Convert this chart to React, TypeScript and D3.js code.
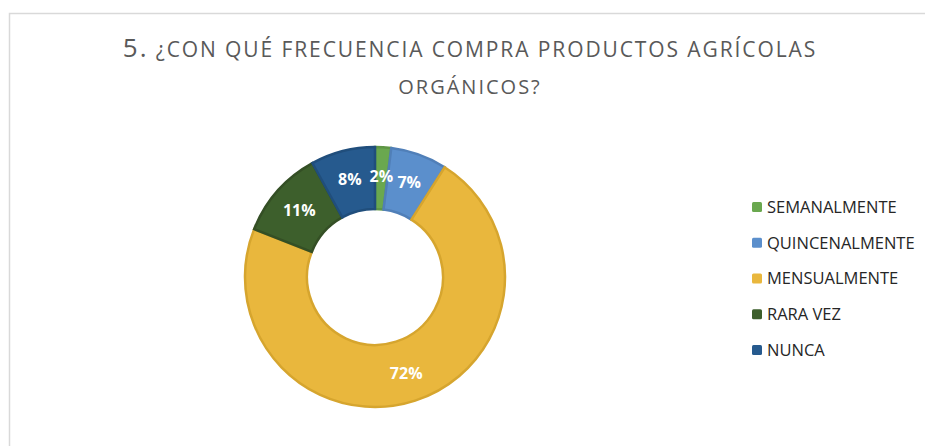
import React from "react";
import * as d3 from "d3";

const categories = ["SEMANALMENTE", "QUINCENALMENTE", "MENSUALMENTE", "RARA VEZ", "NUNCA"];
const values = [2, 7, 72, 11, 8];
const colors = ["#6aa84f", "#5b8fcc", "#e9b73d", "#3d5f2c", "#265a8e"];
const strokes = ["#5e9645", "#507fb8", "#d6a52e", "#344f25", "#204e7c"];
const titleLine1 = "¿CON QUÉ FRECUENCIA COMPRA PRODUCTOS AGRÍCOLAS";
const titleLine2 = "ORGÁNICOS?";

const W = 925, H = 446;
const cx = 375, cy = 277, outerR = 131, innerR = 67;
const font = "'Open Sans', 'DejaVu Sans', sans-serif";

export default function App() {
  const pie = d3.pie<number>().sort(null).value(d => d);
  const arcs = pie(values);
  const arc = d3.arc<d3.PieArcDatum<number>>().innerRadius(innerR + 1).outerRadius(outerR - 1);
  const labelArc = d3.arc<d3.PieArcDatum<number>>().innerRadius(101).outerRadius(101);
  const legendY = d3.scalePoint<string>().domain(categories).range([207, 350]);

  return (
    <svg width={W} height={H} style={{ position: "absolute", left: 0, top: 0 }}>
      <rect x={0} y={0} width={W} height={H} fill="#fff" />
      <path d={`M9.5,${H} V13.5 H${W}`} fill="none" stroke="#d9d9d9" strokeWidth={1.5} />
      <text x={470} y={57} textAnchor="middle" fill="#595959" fontFamily={font} fontSize={21} letterSpacing={1.9}>
        <tspan fontSize={26}>5.</tspan> {titleLine1}
      </text>
      <text x={470} y={94} textAnchor="middle" fill="#595959" fontFamily={font} fontSize={20} letterSpacing={2}>
        {titleLine2}
      </text>
      <g transform={`translate(${cx},${cy})`}>
        {arcs.map((a, i) => (
          <path key={i} d={arc(a) ?? ""} fill={colors[i]} stroke={strokes[i]} strokeWidth={2.5} />
        ))}
        {arcs.map((a, i) => {
          const [x, y] = labelArc.centroid(a);
          return (
            <text key={i} x={x} y={y} dy="0.35em" textAnchor="middle" fill="#fff" fontFamily={font}
              fontWeight="bold" fontSize={16}>
              {values[i]}%
            </text>
          );
        })}
      </g>
      {categories.map((c, i) => (
        <g key={c} transform={`translate(752,${legendY(c)})`}>
          <rect x={0} y={-5} width={10} height={10} rx={1.5} fill={colors[i]} />
          <text x={15} y={0} dy="0.35em" fill="#262626" fontFamily={font} fontSize={16.5}>{c}</text>
        </g>
      ))}
    </svg>
  );
}
